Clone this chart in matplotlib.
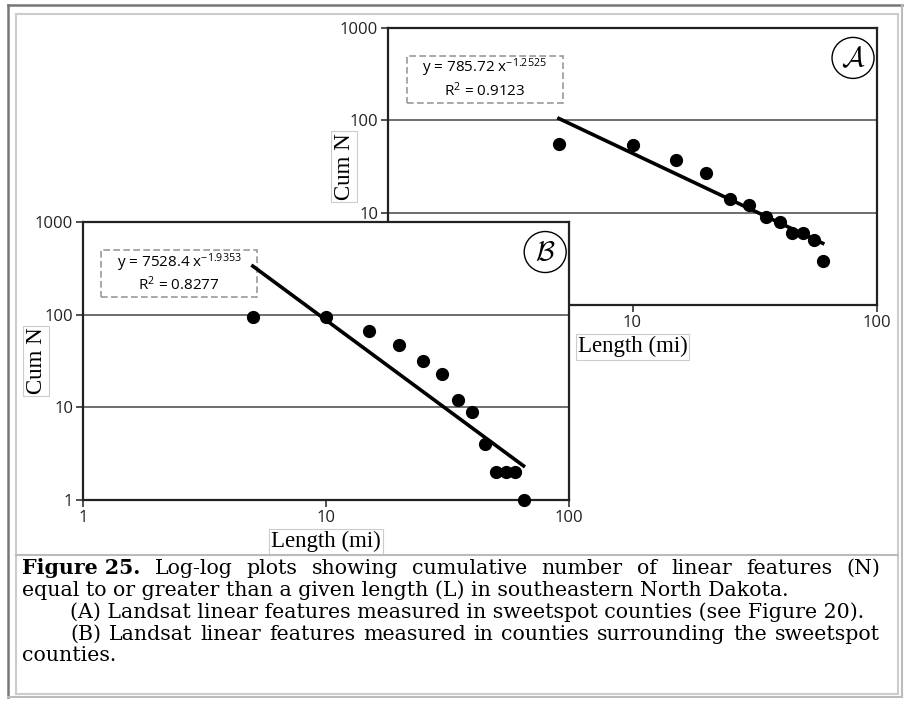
# Log-log plots of cumulative number of linear features (Figure 25)

import numpy as np
import matplotlib
matplotlib.use("Agg")
import matplotlib.pyplot as plt
from matplotlib.lines import Line2D
from matplotlib.patches import Ellipse, Rectangle

plt.rcParams["mathtext.default"] = "regular"

# Dados
len_a = [5, 10, 15, 20, 25, 30, 35, 40, 45, 50, 55, 60]
cum_a = [56, 54, 37, 27, 14, 12, 9, 8, 6, 6, 5, 3]
coef_a, expo_a, r2_a = 785.72, -1.2525, 0.9123

len_b = [5, 10, 15, 20, 25, 30, 35, 40, 45, 50, 55, 60, 65]
cum_b = [95, 95, 67, 47, 32, 23, 12, 9, 4, 2, 2, 2, 1]
coef_b, expo_b, r2_b = 7528.4, -1.9353, 0.8277

x_ticks = [1, 10, 100]
x_tick_labels = ["1", "10", "100"]
y_ticks = [1, 10, 100, 1000]
y_tick_labels = ["1", "10", "100", "1000"]

caption_1 = "Log-log plots showing cumulative number of linear features (N)"
caption_2 = "equal to or greater than a given length (L) in southeastern North Dakota."
caption_3 = "(A) Landsat linear features measured in sweetspot counties (see Figure 20)."
caption_4 = "(B) Landsat linear features measured in counties surrounding the sweetspot"
caption_5 = "counties."

W, H = 909, 702
fig = plt.figure(figsize=(W / 100, H / 100), dpi=100)

def px(x, y):
    return x / W, 1 - y / H

sans = "Open Sans"
serif = "Liberation Serif"
cap_serif = "DejaVu Serif"

def draw_panel(left, top, width, height, lengths, counts, coef, expo, r2, letter, ylab_x):
    ax = fig.add_axes([left / W, 1 - (top + height) / H, width / W, height / H])
    ax.set_facecolor("white")
    ax.set_xscale("log")
    ax.set_yscale("log")
    ax.set_xlim(1, 100)
    ax.set_ylim(1, 1000)
    ax.set_xticks(x_ticks, x_tick_labels, fontfamily=sans, fontsize=12)
    ax.set_yticks(y_ticks, y_tick_labels, fontfamily=sans, fontsize=12)
    ax.minorticks_off()
    ax.tick_params(direction="out", length=5, width=1.2, color="#333",
                   labelcolor="#222", pad=2)
    for s in ax.spines.values():
        s.set_color("#222")
        s.set_linewidth(1.6)
    for v in (10, 100):
        ax.axhline(v, color="#555", lw=1.2, zorder=1)

    ax.plot(lengths, counts, "o", color="black", ms=8.5, clip_on=False, zorder=3)
    xs = np.array([lengths[0], lengths[-1]], dtype=float)
    ax.plot(xs, coef * xs ** expo, color="black", lw=2.6, zorder=2)

    box = dict(facecolor="white", edgecolor="#ccc", lw=0.8, pad=1.5)
    ax.set_ylabel("Cum N", fontfamily=serif, fontsize=16.5, bbox=box)
    ax.yaxis.label.set_verticalalignment("center")
    ax.yaxis.set_label_coords((ylab_x - left) / width, 0.5)
    ax.set_xlabel("Length (mi)", fontfamily=serif, fontsize=16.5, labelpad=4, bbox=box)

    ax.add_patch(Rectangle((0.038, 0.73), 0.32, 0.17, transform=ax.transAxes,
                           fill=False, ec="#999", lw=1.2, ls=(0, (4, 2))))
    ax.text(0.198, 0.855, "y = %s x$^{%s}$" % (coef, expo), transform=ax.transAxes,
            ha="center", va="center", fontfamily=sans, fontsize=11)
    ax.text(0.198, 0.775, "R$^{2}$ = %s" % r2, transform=ax.transAxes,
            ha="center", va="center", fontfamily=sans, fontsize=11)

    ax.add_patch(Ellipse((0.951, 0.892), 42 / width, 41 / height,
                         transform=ax.transAxes, fill=False, ec="black", lw=1))
    ax.text(0.951, 0.892, r"$\mathcal{%s}$" % letter, transform=ax.transAxes,
            math_fontfamily="cm", fontsize=20, ha="center", va="center")
    return ax

ax_a = draw_panel(388, 28, 489, 277, len_a, cum_a, coef_a, expo_a, r2_a, "A", 344)
ax_b = draw_panel(83, 222, 486, 278, len_b, cum_b, coef_b, expo_b, r2_b, "B", 36)

# Moldura
def line(x0, y0, x1, y1, color, lw):
    (a, b), (c, d) = px(x0, y0), px(x1, y1)
    fig.add_artist(Line2D([a, c], [b, d], color=color, lw=lw))

line(8, 5, 902, 5, "#777", 1.8)
line(8, 5, 8, 697, "#777", 1.8)
line(902, 5, 902, 697, "#bbb", 1.5)
line(8, 697, 902, 697, "#bbb", 1.5)
line(16, 14, 898, 14, "#ccc", 1.5)
line(16, 14, 16, 694, "#ccc", 1.5)
line(898, 14, 898, 694, "#ccc", 1.5)
line(16, 694, 898, 694, "#ccc", 1.5)
line(16, 555, 898, 555, "#bbb", 1.5)

# Legenda
renderer = fig.canvas.get_renderer()

def width_of(s, size, weight="normal"):
    t = fig.text(0, 0, s, fontfamily=cap_serif, fontsize=size, fontweight=weight)
    w = t.get_window_extent(renderer).width
    t.remove()
    return w

# tamanho ajustado para que a linha (A) vá de x=70 até x=868
cap_size = 15 * 798 / width_of(caption_3, 15)
space = width_of("x x", cap_size) - width_of("xx", cap_size)

def put_line(words, y, x0, x1=None):
    # words: lista de (texto, peso)
    widths = [width_of(w, cap_size, wt) for w, wt in words]
    gap = space if x1 is None else (x1 - x0 - sum(widths)) / (len(words) - 1)
    x = x0
    for (w, wt), wd in zip(words, widths):
        fig.text(*px(x, y), w, fontfamily=cap_serif, fontsize=cap_size,
                 fontweight=wt, va="baseline")
        x += wd + gap

put_line([("Figure 25.", "bold")] + [(w, "normal") for w in caption_1.split()],
         574, 22, 880)
put_line([(caption_2, "normal")], 596, 22)
put_line([(caption_3, "normal")], 618, 70)
put_line([(w, "normal") for w in caption_4.split()], 640, 70, 880)
put_line([(caption_5, "normal")], 661, 22)

fig.savefig("out.png", dpi=100)
